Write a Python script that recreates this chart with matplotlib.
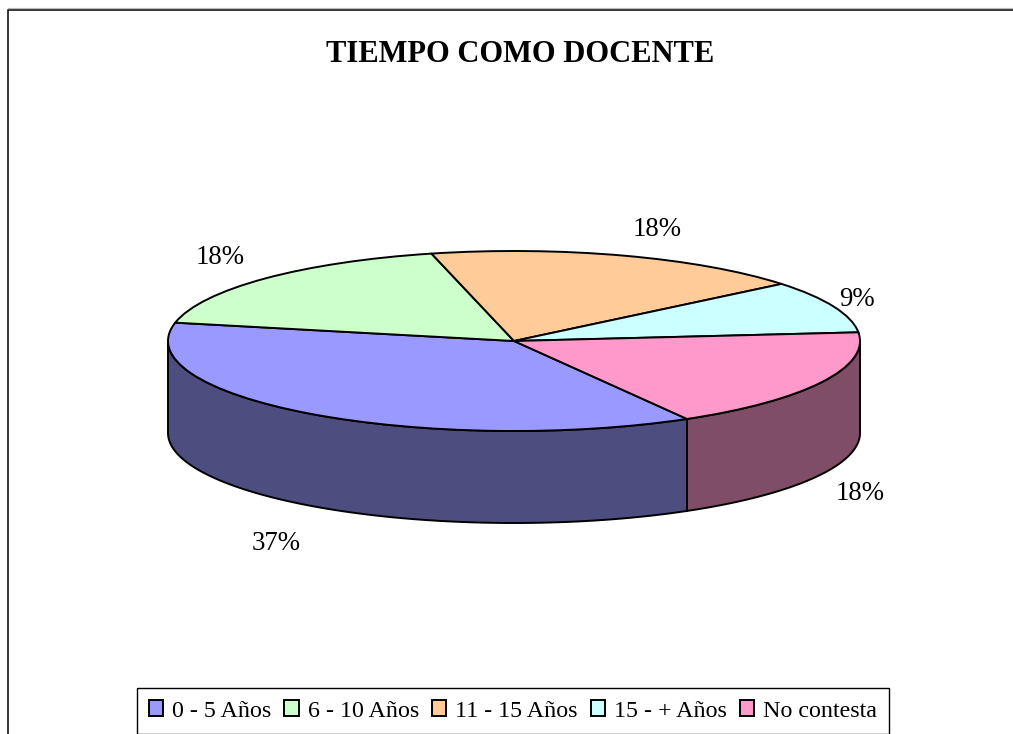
import numpy as np
import matplotlib
matplotlib.use('Agg')
import matplotlib.pyplot as plt
from matplotlib.patches import Wedge, Polygon, Patch
from matplotlib.transforms import Affine2D

plt.rcParams['font.family'] = ['Liberation Serif', 'DejaVu Serif']

titolo = 'TIEMPO COMO DOCENTE'
categorie = ['0 - 5 Años', '6 - 10 Años', '11 - 15 Años', '15 - + Años', 'No contesta']
valori = [36.6, 17.9, 17.9, 9.4, 18.2]
colori = ['#9999FF', '#CCFFCC', '#FFCC99', '#CCFFFF', '#FF99CC']
colori_lato = ['#4D4D80', '#668066', '#806652', '#668080', '#804D66']

# geometria della torta in pixel
cx, cy = 514, 341
rx, ry = 346, 90
spessore = 92
inizio = -60  # angolo di partenza, senso orario
pos_etichette = [(276, 543), (220, 257), (657, 229), (857, 299), (860, 493)]

fig = plt.figure(figsize=(10.13, 7.34), dpi=100)
ax = fig.add_axes([0, 0, 1, 1])
ax.set_xlim(0, 1013)
ax.set_ylim(734, 0)
ax.axis('off')

# cornice
ax.plot([8, 8, 1013], [734, 9.5, 9.5], color='k', lw=1.1, solid_joinstyle='miter', zorder=1)
ax.plot([8, 1013], [8, 8], color='#bbbbbb', lw=0.8, zorder=1)

# angoli delle fette
gradi = np.array(valori) / sum(valori) * 360
fine = inizio - np.cumsum(gradi)
ini = np.concatenate(([inizio], fine[:-1]))

ellisse = Affine2D().scale(rx, -ry).translate(cx, cy) + ax.transData

# lati visibili (solo la meta davanti, angoli tra -180 e 0)
for a, b, c in zip(ini, fine, colori_lato):
    for k in (0, 360):
        a2 = min(a + k, 0)
        b2 = max(b + k, -180)
        if a2 <= b2:
            continue
        t = np.radians(np.linspace(a2, b2, 80))
        x = cx + rx * np.cos(t)
        y = cy - ry * np.sin(t)
        pts = np.vstack([np.column_stack([x, y]),
                         np.column_stack([x[::-1], y[::-1] + spessore])])
        ax.add_patch(Polygon(pts, closed=True, fc=c, ec='k', lw=1.4, zorder=2))

# faccia superiore
for a, b, c in zip(ini, fine, colori):
    ax.add_patch(Wedge((0, 0), 1, b, a, fc=c, ec='k', lw=1.4,
                       transform=ellisse, zorder=3))

for (x, y), v in zip(pos_etichette, valori):
    ax.text(x, y, f'{v:.0f}%', fontsize=19.3, ha='center', va='center', zorder=4)

ax.text(520, 54, titolo, fontsize=22, fontweight='bold', ha='center', va='center')

handles = [Patch(fc=c, ec='k', lw=1.4) for c in colori]
leg = ax.legend(handles, categorie, ncol=5, loc='center',
                bbox_to_anchor=(513 / 1013, 1 - 711 / 734),
                bbox_transform=fig.transFigure,
                fontsize=17.3, frameon=True, fancybox=False, framealpha=1,
                edgecolor='k', handlelength=0.6, handleheight=0.6,
                handletextpad=0.36, columnspacing=0.55,
                borderpad=0.5, borderaxespad=0)
leg.get_frame().set_linewidth(1.0)

fig.savefig('out.png', dpi=100)
